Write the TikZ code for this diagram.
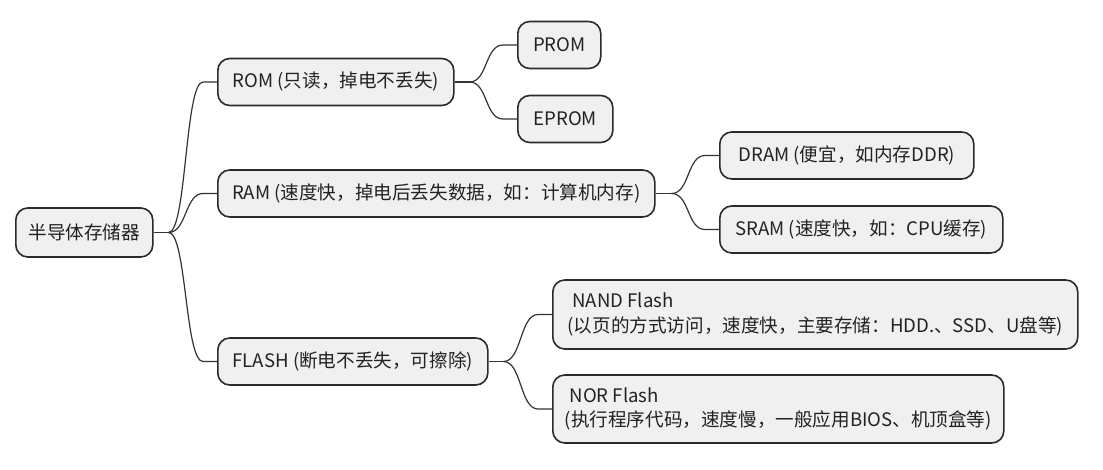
\documentclass[tikz,border=0pt]{standalone}
\usepackage{fontspec}
\setmainfont{Noto Sans CJK SC}
\usetikzlibrary{calc}
\definecolor{boxfill}{HTML}{F0F0F0}
\definecolor{boxline}{HTML}{2B2B2B}
\definecolor{txt}{HTML}{222222}
\definecolor{conncol}{HTML}{333333}
\tikzset{
  box/.style={draw=boxline, fill=boxfill, line width=1.6pt, rounded corners=12pt,
    anchor=west, align=left, inner xsep=0pt, inner ysep=0pt, text=txt,
    font=\fontsize{18.6}{24.5}\selectfont, minimum height=47pt},
  conn/.style={draw=conncol, line width=1.2pt},
}
\newcommand{\branch}[3]{% from coordinate #1 to node #2 with curve width #3
  \coordinate (#2in) at ($(#2.west)+(-14,0)$);
  \draw[conn] (#1) .. controls +(#3,0) and +(-#3,0) .. (#2in) -- (#2.west);
}
\begin{document}
\begin{tikzpicture}[x=1pt,y=-1pt]
\useasboundingbox (0,0) rectangle (1103,470);
\node[box, minimum width=137pt, minimum height=49pt] (root) at (15,232.5) {半导体存储器};
\node[box, minimum width=236pt] (rom) at (217,82) {ROM (只读，掉电不丢失)};
\node[box, minimum width=83pt] (prom) at (517,45) {PROM};
\node[box, minimum width=95pt] (eprom) at (517,119) {EPROM};
\node[box, minimum width=437pt] (ram) at (217,193.5) {RAM (速度快，掉电后丢失数据，如：计算机内存)};
\node[box, minimum width=254pt] (dram) at (719,155.5) {DRAM (便宜，如内存DDR)};
\node[box, minimum width=283pt] (sram) at (719,229.5) {SRAM (速度快，如：CPU缓存)};
\node[box, minimum width=270pt] (flash) at (217,361.5) {FLASH (断电不丢失，可擦除)};
\node[box, minimum width=525pt, minimum height=69pt] (nand) at (552,314.5) {\hspace{5pt}NAND Flash\\(以页的方式访问，速度快，主要存储：HDD.、SSD、U盘等)};
\node[box, minimum width=451pt, minimum height=68pt] (nor) at (552,409) {\hspace{5pt}NOR Flash\\(执行程序代码，速度慢，一般应用BIOS、机顶盒等)};
% connectors
\draw[conn] (root.east) -- ++(15,0) coordinate (r0);
\branch{r0}{rom}{18}
\branch{r0}{ram}{18}
\branch{r0}{flash}{18}
\draw[conn] (rom.east) -- ++(15,0) coordinate (r1);
\branch{r1}{prom}{18}
\branch{r1}{eprom}{18}
\draw[conn] (ram.east) -- ++(16,0) coordinate (r2);
\branch{r2}{dram}{18}
\branch{r2}{sram}{18}
\draw[conn] (flash.east) -- ++(15,0) coordinate (r3);
\branch{r3}{nand}{18}
\branch{r3}{nor}{18}
\end{tikzpicture}
\end{document}
